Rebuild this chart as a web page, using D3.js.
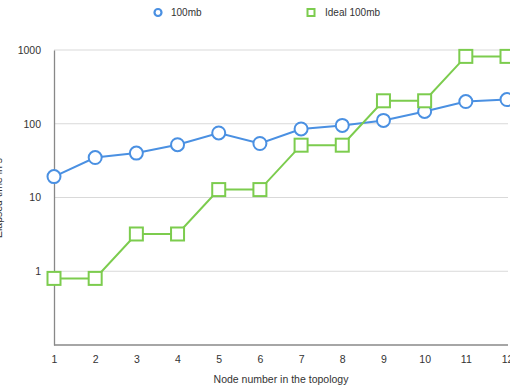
<!DOCTYPE html>
<html><head><meta charset="utf-8">
<script src="https://cdn.jsdelivr.net/npm/d3@7"></script>
<style>body{margin:0;background:#fff}svg{display:block}text{font-family:"Liberation Sans",Arial,sans-serif}</style>
</head><body><svg id="c" width="510" height="389"></svg>
<script>
const nodes = [1,2,3,4,5,6,7,8,9,10,11,12];
const measured = [19.2,34.8,40,52,75,54,85,95,111,147,200,213];
const ideal = [0.8,0.8,3.2,3.2,12.8,12.8,51.2,51.2,204.8,204.8,819.2,819.2];
const yTicks = [1,10,100,1000];
const seriesNames = ["100mb","Ideal 100mb"];
const colors = ["#4a90e2","#7ccc4e"];

const svg = d3.select("#c");
const x = d3.scaleLinear().domain([1,12]).range([54,507]);
const y = d3.scaleLog().domain([0.1,1000]).range([345,50]);

svg.append("g").selectAll("line").data(yTicks).join("line")
  .attr("x1",54).attr("x2",508).attr("y1",d=>y(d)).attr("y2",d=>y(d))
  .attr("stroke","#d9d9d9").attr("stroke-width",1);

const ya = svg.append("g").attr("transform","translate(54,0)")
  .call(d3.axisLeft(y).tickValues(yTicks).tickFormat(d3.format("d")).tickSize(0).tickPadding(13));
ya.select(".domain").attr("stroke","#888").attr("stroke-width",1.3);
ya.selectAll("text").attr("font-size",10.5).attr("fill","#333");

const xa = svg.append("g").attr("transform","translate(0,345)")
  .call(d3.axisBottom(x).tickValues(nodes).tickFormat(d3.format("d")).tickSize(0).tickPadding(11));
xa.select(".domain").attr("stroke","#888").attr("stroke-width",1.3).attr("d","M54,0H508");
xa.selectAll("text").attr("font-size",10.5).attr("fill","#333");

svg.append("text").attr("x",281).attr("y",383).attr("text-anchor","middle")
  .attr("font-size",10.5).attr("fill","#333").text("Node number in the topology");
svg.append("text").attr("transform","translate(2,198) rotate(-90)").attr("text-anchor","middle")
  .attr("font-size",10.5).attr("fill","#333").text("Elapsed time in s");

const line = d3.line().x((d,i)=>x(nodes[i])).y(d=>y(d));
svg.append("path").datum(measured).attr("d",line).attr("fill","none").attr("stroke",colors[0]).attr("stroke-width",2);
svg.append("path").datum(ideal).attr("d",line).attr("fill","none").attr("stroke",colors[1]).attr("stroke-width",2);

svg.append("g").selectAll("circle").data(measured).join("circle")
  .attr("cx",(d,i)=>x(nodes[i])).attr("cy",d=>y(d)).attr("r",6.5)
  .attr("fill","#fff").attr("stroke",colors[0]).attr("stroke-width",2);
svg.append("g").selectAll("rect").data(ideal).join("rect")
  .attr("x",(d,i)=>x(nodes[i])-6.5).attr("y",d=>y(d)-6.5).attr("width",13).attr("height",13)
  .attr("fill","#fff").attr("stroke",colors[1]).attr("stroke-width",2);

const lg = svg.append("g");
lg.append("circle").attr("cx",158).attr("cy",12.5).attr("r",3.5).attr("fill","#fff").attr("stroke",colors[0]).attr("stroke-width",2.2);
lg.append("text").attr("x",171).attr("y",16).attr("font-size",10).attr("fill","#333").text(seriesNames[0]);
lg.append("rect").attr("x",307.5).attr("y",9).attr("width",7).attr("height",7).attr("fill","#fff").attr("stroke",colors[1]).attr("stroke-width",2);
lg.append("text").attr("x",325).attr("y",16).attr("font-size",10).attr("fill","#333").text(seriesNames[1]);
</script></body></html>
